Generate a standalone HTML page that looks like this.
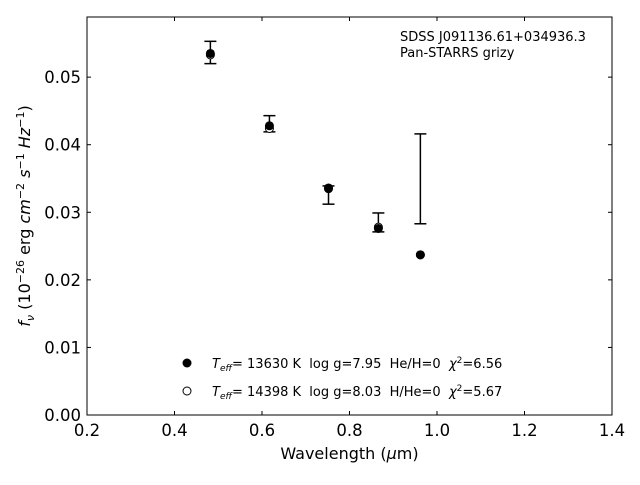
<!DOCTYPE html>
<html><head><meta charset="utf-8"><style>
body{margin:0;background:#fff;}
svg text{font-family:"DejaVu Sans","Liberation Sans",sans-serif;}
.pre{white-space:pre;}
</style></head><body>
<svg id="chart" width="640" height="480" xmlns="http://www.w3.org/2000/svg">
<rect width="640" height="480" fill="#fff"/>
<g id="plot"></g>
</svg>
<script>
const wavelengths=[0.482,0.617,0.752,0.866,0.962];
const obsFlux=[0.05365,0.0431,0.03255,0.0285,0.03495];
const obsErr=[0.00165,0.0012,0.00135,0.0014,0.00665];
const model1=[0.0535,0.0428,0.0336,0.0276,0.0237];
const model2=[0.0533,0.0424,0.0335,0.0278,0.0237];
const xTicks=[0.2,0.4,0.6,0.8,1.0,1.2,1.4];
const xTickLabels=["0.2","0.4","0.6","0.8","1.0","1.2","1.4"];
const yTicks=[0,0.01,0.02,0.03,0.04,0.05];
const yTickLabels=["0.00","0.01","0.02","0.03","0.04","0.05"];
const L=87,R=612,T=17,B=415,x0=0.2,x1=1.4,y0=0,y1=0.0589;
const sx=v=>L+(v-x0)/(x1-x0)*(R-L);
const sy=v=>B-(v-y0)/(y1-y0)*(B-T);
const g=document.getElementById('plot');
const NS='http://www.w3.org/2000/svg';
function mk(tag,at,name,txt){const e=document.createElementNS(NS,tag);for(const k in at)e.setAttribute(k,at[k]);


if(txt!==undefined)e.textContent=txt;g.appendChild(e);return e;}
mk('rect',{x:L,y:T,width:R-L,height:B-T,fill:'none',stroke:'#000','stroke-width':1},'plot-frame');
xTicks.forEach((t,i)=>{const x=sx(t);
mk('line',{x1:x,x2:x,y1:B,y2:B-4,stroke:'#000'},'x-tick');
mk('line',{x1:x,x2:x,y1:T,y2:T+4,stroke:'#000'},'x-tick-top');
mk('text',{x:x,y:B+21,'font-size':16.5,'text-anchor':'middle'},'x-tick-label',xTickLabels[i]);});
yTicks.forEach((t,i)=>{const y=sy(t);
mk('line',{x1:L,x2:L+4,y1:y,y2:y,stroke:'#000'},'y-tick');
mk('line',{x1:R,x2:R-4,y1:y,y2:y,stroke:'#000'},'y-tick-right');
mk('text',{x:L-6,y:y+6,'font-size':16.5,'text-anchor':'end'},'y-tick-label',yTickLabels[i]);});
wavelengths.forEach((w,i)=>{const x=sx(w),a=sy(obsFlux[i]+obsErr[i]),b=sy(obsFlux[i]-obsErr[i]);
mk('line',{x1:x,x2:x,y1:a,y2:b,stroke:'#000','stroke-width':1.5},'error-bar');
mk('line',{x1:x-6,x2:x+6,y1:a,y2:a,stroke:'#000','stroke-width':1.5},'error-cap-top');
mk('line',{x1:x-6,x2:x+6,y1:b,y2:b,stroke:'#000','stroke-width':1.5},'error-cap-bottom');});
wavelengths.forEach((w,i)=>{mk('circle',{cx:sx(w),cy:sy(model2[i]),r:4,fill:'#fff',stroke:'#000','stroke-width':1},'model2-point');});
wavelengths.forEach((w,i)=>{mk('circle',{cx:sx(w),cy:sy(model1[i]),r:4.5,fill:'#000'},'model1-point');});
mk('text',{x:400,y:41,'font-size':13},'object-name','SDSS J091136.61+034936.3');
mk('text',{x:400,y:57,'font-size':13},'survey-name','Pan-STARRS grizy');
mk('circle',{cx:187,cy:363,r:4.5,fill:'#000'},'legend-marker-1');
mk('circle',{cx:187,cy:391,r:4,fill:'#fff',stroke:'#000'},'legend-marker-2');
const l1=mk('text',{x:212,y:368,'font-size':13,'class':'pre'},'legend-label-1');
l1.innerHTML='<tspan font-style="italic">T</tspan><tspan font-style="italic" font-size="9" dy="3">eff</tspan><tspan dy="-3">= 13630 K  log g=7.95  He/H=0  </tspan><tspan font-style="italic">χ</tspan><tspan font-size="9" dy="-5">2</tspan><tspan dy="5">=6.56</tspan>';
const l2=mk('text',{x:212,y:396,'font-size':13,'class':'pre'},'legend-label-2');
l2.innerHTML='<tspan font-style="italic">T</tspan><tspan font-style="italic" font-size="9" dy="3">eff</tspan><tspan dy="-3">= 14398 K  log g=8.03  H/He=0  </tspan><tspan font-style="italic">χ</tspan><tspan font-size="9" dy="-5">2</tspan><tspan dy="5">=5.67</tspan>';
const xl=mk('text',{x:(L+R)/2,y:459,'font-size':16,'text-anchor':'middle'},'x-axis-title');
xl.innerHTML='Wavelength (<tspan font-style="italic">μ</tspan>m)';
const yl=mk('text',{x:0,y:0,'font-size':16,'text-anchor':'middle',transform:'translate(30,216) rotate(-90)'},'y-axis-title');
yl.innerHTML='<tspan font-style="italic">f</tspan><tspan font-style="italic" font-size="11" dy="4">ν</tspan><tspan dy="-4"> (10</tspan><tspan font-size="11" dy="-6">−26</tspan><tspan dy="6"> erg </tspan><tspan font-style="italic">cm</tspan><tspan font-size="11" dy="-6">−2</tspan><tspan dy="6"> </tspan><tspan font-style="italic">s</tspan><tspan font-size="11" dy="-6">−1</tspan><tspan dy="6"> </tspan><tspan font-style="italic">Hz</tspan><tspan font-size="11" dy="-6">−1</tspan><tspan dy="6">)</tspan>';
</script>
</body></html>
